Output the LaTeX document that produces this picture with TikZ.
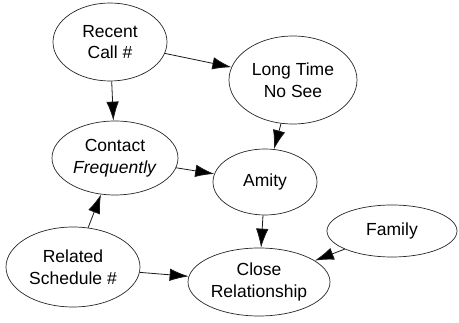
\documentclass[tikz,border=0pt]{standalone}
\usepackage{fontspec}
\setmainfont{Liberation Sans}
\usetikzlibrary{shapes.geometric,arrows.meta}

\begin{document}
\begin{tikzpicture}[x=1pt,y=-1pt,
  bubble/.style={ellipse,draw=black!85,line width=0.7pt,inner sep=0pt,align=center,
    font=\fontsize{17.5}{21.5}\selectfont},
  link/.style={draw=black!90,line width=0.8pt,-{Latex[length=19pt,width=12.5pt]}}]
\useasboundingbox (0,0) rectangle (459,323);

\node[bubble,minimum width=114,minimum height=78] (P1) at (110,42) {Recent\\Call \#};
\node[bubble,minimum width=128,minimum height=88] (P2) at (293,80) {Long Time\\No See};
\node[bubble,minimum width=126,minimum height=74] (P3) at (115,158) {Contact\\\textit{Frequently}};;
\node[bubble,minimum width=104,minimum height=66] (P4) at (265,182) {Amity};
\node[bubble,minimum width=130,minimum height=52] (P5) at (392,231) {Family};;
\node[bubble,minimum width=134,minimum height=80] (P6) at (73,267) {Related\\Schedule \#};
\node[bubble,minimum width=142,minimum height=68] (P7) at (259,282) {Close\\Relationship};

%(P5) edge (P4)
\path[link]
(P1) edge (P2)
(P1) edge (P3)
(P2) edge (P4)
(P3) edge (P4)
(P6) edge (P3)
(P6) edge (P7)
(P4) edge (P7)
(P5) edge (P7);
\end{tikzpicture}
\end{document}
